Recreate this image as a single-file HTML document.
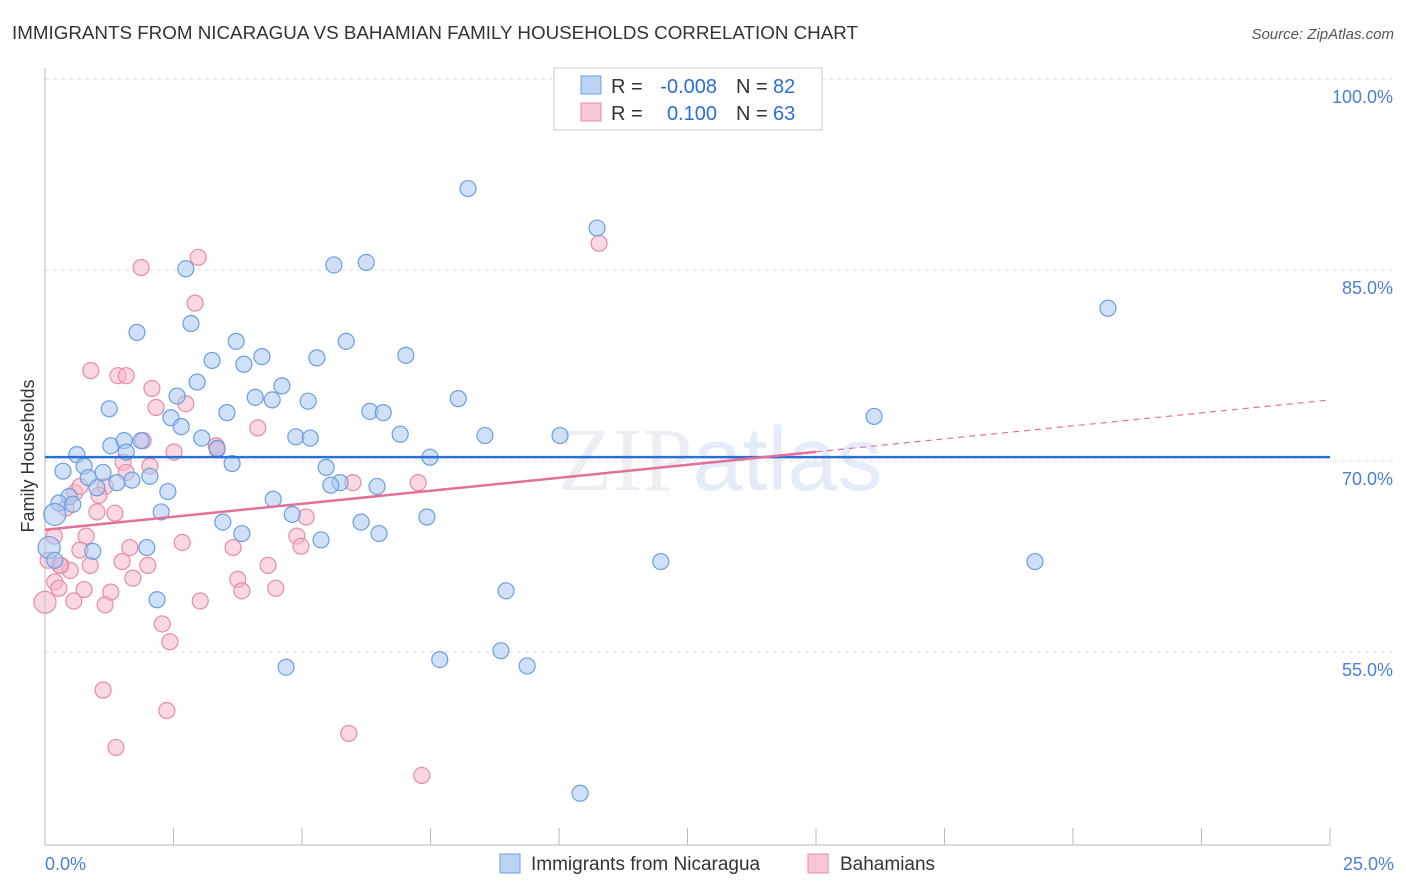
<!DOCTYPE html>
<html><head><meta charset="utf-8"><style>
body{margin:0;background:#fff;font-family:"Liberation Sans",sans-serif}
svg{display:block}
</style></head><body>
<svg width="1406" height="892" xmlns="http://www.w3.org/2000/svg">
<text x="12" y="39" font-size="18.8" fill="#333">IMMIGRANTS FROM NICARAGUA VS BAHAMIAN FAMILY HOUSEHOLDS CORRELATION CHART</text>
<text x="1394" y="39" font-size="15" fill="#555" text-anchor="end" font-style="italic">Source: ZipAtlas.com</text>
<text x="720" y="490" font-size="90" fill="#ebeef2" text-anchor="middle" font-family="Liberation Serif">ZIP<tspan fill="#e3ecf8" font-family="Liberation Sans">atlas</tspan></text>
<g id="grid"></g>
<g id="axes"></g>
<text transform="translate(34,456) rotate(-90)" font-size="18" fill="#333" text-anchor="middle">Family Households</text>
<g id="pts"></g>
<g id="lines"></g>
<g>
<rect x="554" y="68" width="268" height="62" fill="#fff" stroke="#ccc"/>
<rect x="581" y="76" width="20" height="18" fill="#bcd4f3" stroke="#6b9ee0"/>
<rect x="581" y="103" width="20" height="18" fill="#f9c6d5" stroke="#e98aa8"/>
<text x="611" y="93" font-size="20" fill="#333">R =</text>
<text x="717" y="93" font-size="20" fill="#2a6fd6" text-anchor="end">-0.008</text>
<text x="736" y="93" font-size="20" fill="#333">N =</text>
<text x="773" y="93" font-size="20" fill="#2a6fd6">82</text>
<text x="611" y="120" font-size="20" fill="#333">R =</text>
<text x="717" y="120" font-size="20" fill="#2a6fd6" text-anchor="end">0.100</text>
<text x="736" y="120" font-size="20" fill="#333">N =</text>
<text x="773" y="120" font-size="20" fill="#2a6fd6">63</text>
</g>
<g>
<rect x="500" y="854" width="20" height="19" fill="#bcd4f3" stroke="#6b9ee0"/>
<text x="531" y="870" font-size="19" fill="#333">Immigrants from Nicaragua</text>
<rect x="808" y="854" width="20" height="19" fill="#f9c6d5" stroke="#e98aa8"/>
<text x="840" y="870" font-size="19" fill="#333">Bahamians</text>
</g>
</svg>
<script>
const blueX=[8.23,10.74,20.68,16.13,2.74,5.62,6.25,1.79,2.84,3.72,5.86,3.25,4.22,5.29,7.02,3.87,2.96,4.61,2.57,4.09,4.42,5.12,8.04,1.25,3.54,6.32,6.58,2.45,2.65,4.88,5.16,6.91,8.56,10.02,3.05,1.28,1.54,1.87,3.35,0.62,1.58,7.49,3.64,0.76,0.35,1.13,5.47,0.84,2.04,1.69,1.40,5.74,5.56,6.46,1.01,2.39,0.47,0.27,4.44,0.54,0.19,2.26,4.81,3.46,6.15,7.43,3.83,6.50,5.37,1.98,0.93,0.08,0.19,11.98,19.26,8.97,2.18,8.87,7.68,4.69,9.38,10.41];
const blueY=[91.4,88.3,82.0,73.5,85.1,85.4,85.6,80.1,80.8,79.4,79.4,77.9,78.2,78.1,78.3,77.6,76.2,75.9,75.1,75.0,74.8,74.7,74.9,74.1,73.8,73.9,73.8,73.4,72.7,71.9,71.8,72.1,72.0,72.0,71.8,71.2,71.6,71.6,71.0,70.5,70.7,70.3,69.8,69.6,69.2,69.1,69.5,68.7,68.8,68.5,68.3,68.3,68.1,68.0,67.9,67.6,67.2,66.7,67.0,66.6,65.8,66.0,65.8,65.2,65.2,65.6,64.3,64.3,63.8,63.2,62.9,63.2,62.2,62.1,62.1,59.8,59.1,55.1,54.4,53.8,53.9,43.9];
const pinkX=[10.78,2.98,1.87,2.92,0.89,1.42,1.58,2.08,2.16,2.74,4.14,1.91,2.51,3.33,1.52,2.04,1.58,1.17,0.58,0.68,1.05,0.41,1.01,1.36,5.08,5.99,7.26,0.18,0.80,2.67,4.90,3.66,1.65,4.98,0.68,0.31,1.50,2.00,4.34,0.88,0.49,0.19,3.75,1.71,0.27,0.76,3.83,1.28,4.49,0.56,3.02,0.0,1.17,2.28,2.43,1.13,2.37,1.38,5.91,7.33,0.06,0.29,3.35];
const pinkY=[87.1,86.0,85.2,82.4,77.1,76.7,76.7,75.7,74.2,74.5,72.6,71.6,70.7,71.2,69.9,69.6,69.1,68.0,67.5,68.0,67.3,66.3,66.0,65.9,65.6,68.3,68.3,64.1,64.1,63.6,64.1,63.2,63.2,63.3,63.0,61.8,62.1,61.8,61.8,61.8,61.4,60.5,60.7,60.8,60.0,59.9,59.8,59.7,60.0,59.0,59.0,58.9,58.7,57.2,55.8,52.0,50.4,47.5,48.6,45.3,62.2,61.8,70.9];
const yTicks=[55,70,85,100];
const xTickLabels=["0.0%","25.0%"];
const blueTrend=[70.3,70.3];
const pinkTrend=[64.6,74.8];
const NS="http://www.w3.org/2000/svg";
const X=v=>45+v*51.4, Y=v=>461-(v-70)*12.73;
function mk(t,a,p){const e=document.createElementNS(NS,t);for(const k in a)e.setAttribute(k,a[k]);p.appendChild(e);return e;}
const grid=document.getElementById('grid'),axes=document.getElementById('axes'),pts=document.getElementById('pts'),lines=document.getElementById('lines');
yTicks.forEach(v=>{const l=mk('line',{x1:45,x2:1394,y1:Y(v),y2:Y(v),stroke:'#ddd','stroke-dasharray':'4,4'},grid);


const t=mk('text',{x:1393,y:Y(v)+24,'font-size':18,fill:'#4a7fd8','text-anchor':'end'},grid);t.textContent=v.toFixed(1)+'%';

});
const ax=mk('line',{x1:45,x2:1330,y1:845,y2:845,stroke:'#bbb'},axes);


const ay=mk('line',{x1:45,x2:45,y1:68,y2:845,stroke:'#bbb'},axes);


for(let i=0;i<=10;i++){const tk=mk('line',{x1:X(i*2.5),x2:X(i*2.5),y1:828,y2:845,stroke:'#bbb'},axes);

}
xTickLabels.forEach((s,i)=>{const t=mk('text',{x:i?1394:45,y:870,'font-size':18,fill:'#4a7fd8','text-anchor':i?'end':'start'},axes);t.textContent=s;

});
function draw(xs,ys,fill,stroke,name,big){xs.forEach((x,i)=>{const r=(big.includes(i))?11:8;
const c=mk('circle',{cx:X(x),cy:Y(ys[i]),r:r,fill:fill,'fill-opacity':0.55,stroke:stroke,'stroke-width':1.2},pts);

});}
draw(pinkX,pinkY,'#f6b8cb','#e98aa8','bahamians-point',[51]);
draw(blueX,blueY,'#a9c8f0','#6b9ee0','nicaragua-point',[71,60]);
const bl=mk('line',{x1:X(0),x2:X(25),y1:Y(blueTrend[0]),y2:Y(blueTrend[1]),stroke:'#2a6fd6','stroke-width':2.5},lines);


const py=x=>pinkTrend[0]+(pinkTrend[1]-pinkTrend[0])*x/25;
const pl=mk('line',{x1:X(0),x2:X(15),y1:Y(py(0)),y2:Y(py(15)),stroke:'#e4709a','stroke-width':2.5},lines);


const pd=mk('line',{x1:X(15),x2:X(25),y1:Y(py(15)),y2:Y(py(25)),stroke:'#e4709a','stroke-width':1.2,'stroke-dasharray':'6,5'},lines);


</script>
</body></html>
